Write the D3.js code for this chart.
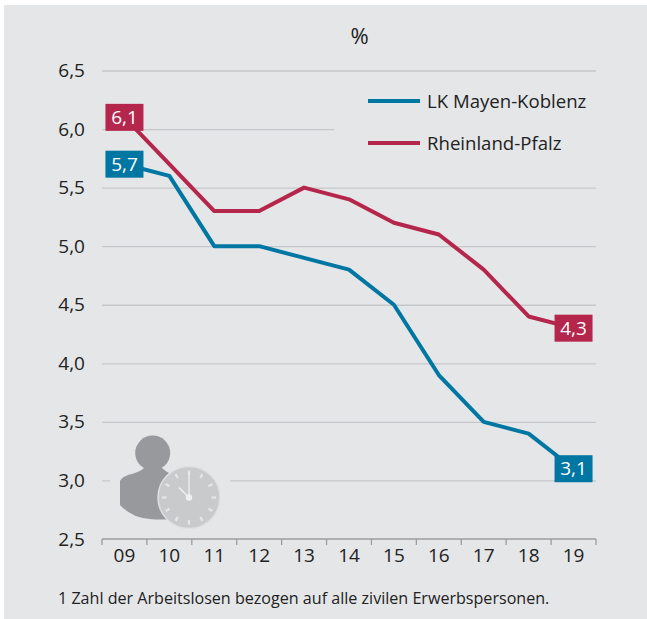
<!DOCTYPE html>
<html lang="de">
<head>
<meta charset="UTF-8">
<title>Arbeitslosenquote</title>
<style>
  html, body { margin: 0; padding: 0; background: #fff; }
  svg { display: block; }
  text { font-family: "Open Sans", "Noto Sans", sans-serif; fill: #222; }
</style>
</head>
<body>
<div id="chart"></div>
<script src="https://d3js.org/d3.v7.min.js"></script>
<script>
// data
var years = ["09", "10", "11", "12", "13", "14", "15", "16", "17", "18", "19"];
var mayen = [5.7, 5.6, 5.0, 5.0, 4.9, 4.8, 4.5, 3.9, 3.5, 3.4, 3.1];
var rlp = [6.1, 5.7, 5.3, 5.3, 5.5, 5.4, 5.2, 5.1, 4.8, 4.4, 4.3];
var yTicks = [2.5, 3.0, 3.5, 4.0, 4.5, 5.0, 5.5, 6.0, 6.5];
var seriesNames = ["LK Mayen-Koblenz", "Rheinland-Pfalz"];
var footnote = "1 Zahl der Arbeitslosen bezogen auf alle zivilen Erwerbspersonen.";

var width = 647, height = 619;
var bg = "#e5e6e8", blue = "#0076a3", red = "#b5264c";
var comma = function(v) { return d3.format(".1f")(v).replace(".", ","); };

var svg = d3.select("#chart").append("svg")
    .attr("width", width)
    .attr("height", height);

svg.append("rect")
    .attr("x", 4).attr("y", 5)
    .attr("width", width - 4).attr("height", height - 5)
    .attr("fill", bg);

var x = d3.scaleBand().domain(years).range([102, 596]);
var y = d3.scaleLinear().domain([2.5, 6.5]).range([539, 70.5]);

// y axis with the grid lines
var yAxis = svg.append("g")
    .attr("transform", "translate(102,0)")
    .call(d3.axisLeft(y).tickValues(yTicks).tickSize(0).tickPadding(17).tickFormat(comma));
yAxis.select(".domain").remove();
yAxis.selectAll("text")
    .attr("font-size", 19);
yAxis.selectAll(".tick").filter(function(d) { return d > 2.5; }).append("line")
    .attr("x2", 494)
    .attr("stroke", "#c6c7c9")
    .attr("stroke-width", 1.3);

// gaps in the grid behind the legend and the icon
svg.append("rect").attr("x", 334).attr("y", 120).attr("width", 270).attr("height", 16).attr("fill", bg);
svg.append("rect").attr("x", 110).attr("y", 472).attr("width", 120).attr("height", 16).attr("fill", bg);

// x axis, ticks sit on the band edges
var xAxis = svg.append("g")
    .attr("transform", "translate(0,539)")
    .call(d3.axisBottom(x).tickSize(0).tickPadding(10));
xAxis.select(".domain").remove();
xAxis.selectAll("text").attr("font-size", 19);
var axisColor = "#9b9c9e";
xAxis.append("line")
    .attr("x1", 102).attr("x2", 596)
    .attr("stroke", axisColor).attr("stroke-width", 1.5);
xAxis.selectAll(".edge")
    .data(years.concat("end"))
  .enter().append("line")
    .attr("class", "edge")
    .attr("x1", function(d) { return d === "end" ? x.range()[1] : x(d); })
    .attr("x2", function(d) { return d === "end" ? x.range()[1] : x(d); })
    .attr("y1", 0).attr("y2", 6)
    .attr("stroke", axisColor).attr("stroke-width", 1.3);

// lines
var line = d3.line()
    .x(function(d, i) { return x(years[i]) + x.bandwidth() / 2; })
    .y(function(d) { return y(d); });

[[rlp, red], [mayen, blue]].forEach(function(s) {
  svg.append("path")
    .attr("d", line(s[0]))
    .attr("fill", "none")
    .attr("stroke", s[1])
    .attr("stroke-width", 4)
    .attr("stroke-linejoin", "round");
});

// value boxes at both ends of the lines
function valueBox(i, v, color) {
  var cx = x(years[i]) + x.bandwidth() / 2, cy = y(v);
  svg.append("rect")
    .attr("x", cx - 19).attr("y", cy - 13.5)
    .attr("width", 38).attr("height", 27)
    .attr("fill", color);
  svg.append("text")
    .attr("x", cx).attr("y", cy + 6.5)
    .attr("text-anchor", "middle")
    .attr("font-size", 19)
    .style("fill", "#fff")
    .text(comma(v));
}
valueBox(0, rlp[0], red);
valueBox(0, mayen[0], blue);
valueBox(10, rlp[10], red);
valueBox(10, mayen[10], blue);

// legend
[[seriesNames[0], blue, 101], [seriesNames[1], red, 143]].forEach(function(l) {
  svg.append("line")
    .attr("x1", 368).attr("x2", 420)
    .attr("y1", l[2]).attr("y2", l[2])
    .attr("stroke", l[1]).attr("stroke-width", 4);
  svg.append("text")
    .attr("x", 427).attr("y", l[2] + 7)
    .attr("font-size", 18.6)
    .text(l[0]);
});

svg.append("text")
    .attr("x", 359.5).attr("y", 44)
    .attr("text-anchor", "middle")
    .attr("font-size", 22)
    .text("%");

svg.append("text")
    .attr("x", 58).attr("y", 604)
    .attr("font-size", 16.1)
    .text(footnote);

// person with clock icon
var icon = svg.append("g");
icon.append("circle").attr("cx", 152.7).attr("cy", 453).attr("r", 17.5).attr("fill", "#97999c");
icon.append("path")
    .attr("d", "M120,481 Q122,477 128,475 Q140,472 144,468 L162,468 Q168,474 180,477 L200,500 L170,519 Q160,520 150,519 Q132,518 120,505 Z")
    .attr("fill", "#97999c");
var clock = icon.append("g").attr("transform", "translate(189,497.5)");
clock.append("circle").attr("r", 31).attr("fill", "#c9cacc").attr("stroke", "#dfe0e2").attr("stroke-width", 1.5);
clock.selectAll(".mark")
    .data(d3.range(12))
  .enter().append("line")
    .attr("class", "mark")
    .attr("y1", -27).attr("y2", -22.5)
    .attr("transform", function(d) { return "rotate(" + d * 30 + ")"; })
    .attr("stroke", "#e5e6e8").attr("stroke-width", 2.2);
clock.append("line").attr("y2", -25).attr("stroke", "#f0f0f1").attr("stroke-width", 1.3);
clock.append("line").attr("x2", -10).attr("y2", -10).attr("stroke", "#f0f0f1").attr("stroke-width", 1.6);
clock.append("circle").attr("r", 3.2).attr("fill", "#f0f0f1");
</script>
</body>
</html>
